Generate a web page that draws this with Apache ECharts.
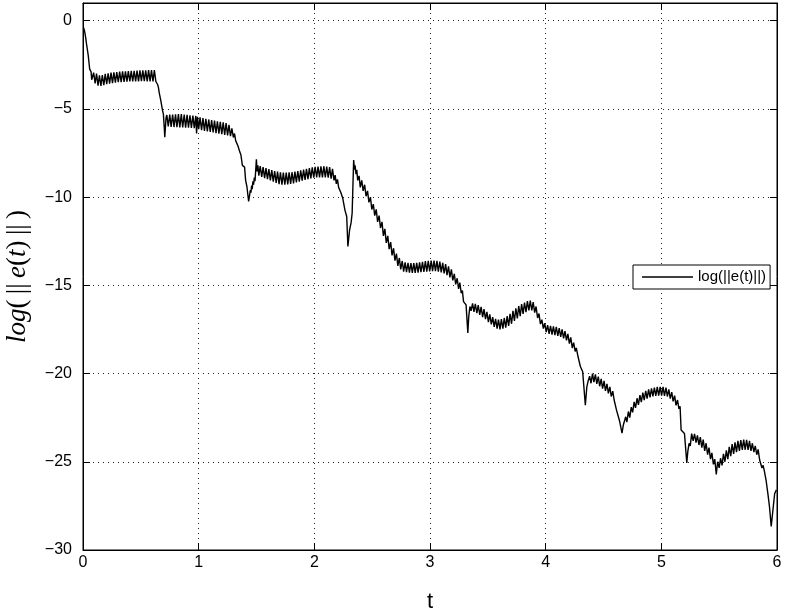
<!DOCTYPE html>
<html>
<head>
<meta charset="utf-8">
<script src="https://cdn.jsdelivr.net/npm/echarts@6/dist/echarts.min.js"></script>
<style>
  html, body { margin: 0; padding: 0; background: #fff; }
  #errChart { width: 786px; height: 614px; }
</style>
</head>
<body>
<div id="errChart"></div>
<script>
// log(||e(t)||), [t, value]
var initialDrop = [[0.005,-0.40],[0.012,-0.55],[0.018,-0.75],[0.024,-1.00],[0.030,-1.30],[0.038,-1.65],[0.045,-1.95],[0.052,-2.40],[0.058,-2.75],[0.064,-2.80],[0.070,-2.90],[0.075,-3.35]]

var plateau1 = [[0.080,-3.40],[0.092,-2.95],[0.105,-3.55],[0.117,-3.00],[0.130,-3.68],[0.142,-3.10],[0.155,-3.70],[0.167,-3.08],[0.180,-3.66],[0.192,-3.02],[0.205,-3.60],[0.217,-2.98],[0.230,-3.57],[0.242,-2.95],[0.255,-3.54],[0.267,-2.93],[0.280,-3.51],[0.292,-2.91],[0.305,-3.49],[0.317,-2.89],[0.330,-3.48],[0.342,-2.88],[0.355,-3.47],[0.367,-2.87],[0.380,-3.46],[0.392,-2.86],[0.405,-3.45],[0.417,-2.85],[0.430,-3.45],[0.442,-2.84],[0.455,-3.44],[0.467,-2.83],[0.480,-3.44],[0.492,-2.82],[0.505,-3.43],[0.517,-2.82],[0.530,-3.43],[0.542,-2.81],[0.555,-3.44],[0.567,-2.80],[0.580,-3.44],[0.592,-2.80],[0.605,-3.45],[0.617,-2.80],[0.630,-3.45],
  [0.640,-3.50],[0.645,-3.62],[0.652,-3.78],[0.658,-4.05],[0.665,-4.10],[0.672,-4.50],[0.680,-4.80],[0.688,-5.10],[0.695,-5.30],[0.702,-6.00],[0.707,-6.60],[0.713,-6.00],[0.718,-5.50]]

var plateau2 = [[0.725,-5.35],[0.737,-6.00],[0.750,-5.33],[0.762,-6.02],[0.775,-5.32],[0.787,-6.03],[0.800,-5.31],[0.812,-6.04],[0.825,-5.30],[0.837,-6.05],[0.850,-5.30],[0.862,-6.05],[0.875,-5.32],[0.887,-6.06],[0.900,-5.34],[0.912,-6.07],[0.925,-5.36],[0.937,-6.08],[0.950,-5.38],[0.962,-6.09],[0.975,-5.40],[0.982,-6.40],[0.990,-5.45],[1.000,-6.15],[1.012,-5.48],[1.025,-6.20],[1.037,-5.52],[1.050,-6.25],[1.062,-5.56],[1.075,-6.28],[1.087,-5.60],[1.100,-6.31],[1.112,-5.64],[1.125,-6.34],[1.137,-5.67],[1.150,-6.38],[1.162,-5.70],[1.175,-6.41],[1.187,-5.73],[1.200,-6.44],[1.212,-5.76],[1.225,-6.47],[1.237,-5.80],[1.250,-6.50],[1.262,-5.90],[1.275,-6.55],[1.287,-6.10],[1.300,-6.62],
  [1.310,-6.40],[1.320,-6.80],[1.330,-6.70],[1.340,-7.10],[1.350,-7.05],[1.356,-7.45],[1.365,-7.60],[1.372,-7.70],[1.378,-8.20],[1.390,-8.25],[1.397,-8.30],[1.406,-9.05],[1.417,-9.40],[1.432,-10.25],[1.440,-9.90],[1.447,-9.60],[1.452,-9.75],[1.458,-9.35],[1.463,-9.55],[1.469,-9.10],[1.475,-9.30],[1.481,-8.90],[1.487,-9.10],[1.493,-8.50],[1.499,-7.86],[1.505,-8.55],[1.512,-8.20]]

var plateau3 = [[1.520,-8.78],[1.532,-8.25],[1.545,-8.85],[1.557,-8.30],[1.570,-8.92],[1.582,-8.36],[1.595,-8.98],[1.607,-8.42],[1.620,-9.05],[1.632,-8.47],[1.645,-9.12],[1.657,-8.52],[1.670,-9.20],[1.682,-8.56],[1.695,-9.27],[1.707,-8.60],[1.720,-9.30],[1.732,-8.61],[1.745,-9.30],[1.757,-8.61],[1.770,-9.28],[1.782,-8.60],[1.795,-9.25],[1.807,-8.59],[1.820,-9.22],[1.832,-8.56],[1.845,-9.17],[1.857,-8.52],[1.870,-9.12],[1.882,-8.48],[1.895,-9.07],[1.907,-8.44],[1.920,-9.02],[1.932,-8.40],[1.945,-8.98],[1.957,-8.36],[1.970,-8.94],[1.982,-8.32],[1.995,-8.90],[2.007,-8.29],[2.020,-8.89],[2.032,-8.27],[2.045,-8.88],[2.057,-8.26],[2.070,-8.88],[2.082,-8.25],[2.095,-8.88],[2.107,-8.27],[2.120,-8.90],[2.132,-8.30],[2.145,-8.95],[2.157,-8.40],[2.170,-9.05],
  [2.180,-8.75],[2.190,-9.25],[2.200,-9.00],[2.210,-9.45],[2.220,-9.35],[2.230,-9.75],[2.238,-9.70],[2.245,-10.05],[2.255,-10.10],[2.265,-10.75],[2.280,-11.10],[2.290,-12.80],[2.305,-11.85],[2.318,-11.45],[2.327,-10.90],[2.340,-7.90],[2.347,-8.45],[2.352,-8.20],[2.360,-8.70]]

var slope1 = [[2.367,-8.45],[2.375,-9.05],[2.387,-8.80],[2.397,-9.45],[2.410,-9.05],[2.422,-9.65],[2.435,-9.30],[2.447,-9.95],[2.460,-9.65],[2.472,-10.30],[2.485,-10.00],[2.497,-10.70],[2.510,-10.40],[2.522,-11.05],[2.535,-10.70],[2.547,-11.40],[2.560,-11.05],[2.572,-11.75],[2.585,-11.40],[2.597,-12.20],[2.610,-11.80],[2.622,-12.60],[2.635,-12.20],[2.647,-12.95],[2.660,-12.55],[2.672,-13.30],[2.685,-12.90],[2.697,-13.60],[2.710,-13.20],[2.722,-13.90],[2.735,-13.45],[2.747,-14.10],[2.760,-13.62],[2.772,-14.22]]

var plateau4 = [[2.785,-13.70],[2.797,-14.25],[2.810,-13.72],[2.822,-14.28],[2.835,-13.74],[2.847,-14.30],[2.860,-13.74],[2.872,-14.30],[2.885,-13.72],[2.897,-14.28],[2.910,-13.70],[2.922,-14.26],[2.935,-13.67],[2.947,-14.24],[2.960,-13.63],[2.972,-14.22],[2.985,-13.61],[2.997,-14.21],[3.010,-13.60],[3.022,-14.20],[3.035,-13.60],[3.047,-14.20],[3.060,-13.61],[3.072,-14.22],[3.085,-13.65],[3.097,-14.27],[3.110,-13.72],[3.122,-14.33],[3.135,-13.80],[3.147,-14.42],[3.160,-13.92],[3.172,-14.55],[3.185,-14.10],[3.197,-14.72],[3.210,-14.35],[3.222,-14.95],[3.235,-14.60],[3.247,-15.20],[3.258,-14.85],
  [3.270,-15.45],[3.280,-15.30],[3.290,-15.92],[3.300,-15.85],[3.312,-16.11],[3.327,-17.70],[3.335,-16.77],[3.345,-16.20],[3.355,-16.45]]

var plateau5 = [[3.368,-16.02],[3.380,-16.50],[3.392,-16.05],[3.405,-16.58],[3.417,-16.12],[3.430,-16.68],[3.442,-16.22],[3.455,-16.80],[3.467,-16.35],[3.480,-16.92],[3.492,-16.50],[3.505,-17.08],[3.517,-16.65],[3.530,-17.22],[3.542,-16.80],[3.555,-17.35],[3.567,-16.90],[3.580,-17.45],[3.592,-16.95],[3.605,-17.50],[3.617,-16.92],[3.630,-17.45],[3.642,-16.85],[3.655,-17.40],[3.667,-16.75],[3.680,-17.30],[3.692,-16.62],[3.705,-17.18],[3.717,-16.45],[3.730,-17.02],[3.742,-16.30],[3.755,-16.88],[3.767,-16.17],[3.780,-16.75],[3.792,-16.06],[3.805,-16.62],[3.817,-15.98],[3.830,-16.52],[3.842,-15.90],[3.855,-16.42],[3.867,-15.86],[3.880,-16.42],[3.892,-15.95],[3.905,-16.55],[3.917,-16.20],[3.930,-16.85],[3.942,-16.60],[3.955,-17.20],[3.967,-16.95],[3.980,-17.45],[3.992,-17.15],[4.005,-17.65],[4.017,-17.25],[4.030,-17.75],[4.042,-17.30],[4.055,-17.80],[4.067,-17.32],[4.080,-17.82],[4.092,-17.36],[4.105,-17.86],[4.117,-17.42],[4.130,-17.92],[4.142,-17.50],[4.155,-18.00],[4.167,-17.60],[4.180,-18.12],[4.192,-17.75],[4.205,-18.30],[4.217,-17.95],[4.230,-18.55],[4.242,-18.25],[4.255,-18.75],
  [4.265,-18.55],[4.280,-19.05],[4.290,-18.95],[4.300,-19.60],[4.320,-19.90],[4.343,-21.80],[4.356,-20.75],[4.368,-20.40]]

var plateau6 = [[4.380,-20.15],[4.392,-20.55],[4.405,-20.00],[4.417,-20.48],[4.430,-20.05],[4.442,-20.58],[4.455,-20.18],[4.467,-20.72],[4.480,-20.30],[4.492,-20.85],[4.505,-20.42],[4.517,-20.98],[4.530,-20.58],[4.542,-21.12],[4.555,-20.75],[4.567,-21.30],[4.580,-21.00],[4.592,-21.50],
  [4.600,-21.45],[4.612,-22.06],[4.625,-22.05],[4.640,-22.72],[4.660,-23.38],[4.672,-22.90],[4.682,-22.95],[4.692,-22.45]]

var plateau7 = [[4.702,-22.75],[4.715,-22.15],[4.727,-22.50],[4.740,-21.90],[4.752,-22.20],[4.765,-21.60],[4.777,-21.95],[4.790,-21.40],[4.802,-21.78],[4.815,-21.22],[4.827,-21.62],[4.840,-21.08],[4.852,-21.50],[4.865,-20.98],[4.877,-21.42],[4.890,-20.90],[4.902,-21.35],[4.915,-20.84],[4.927,-21.30],[4.940,-20.80],[4.952,-21.27],[4.965,-20.76],[4.977,-21.25],[4.990,-20.75],[5.002,-21.25],[5.015,-20.76],[5.027,-21.27],[5.040,-20.80],[5.052,-21.30],[5.065,-20.90],[5.077,-21.42],[5.090,-21.05],[5.102,-21.58],[5.115,-21.25],[5.127,-21.80],[5.140,-21.50],[5.152,-22.00],[5.162,-21.85],
  [5.171,-23.20],[5.185,-23.15],[5.200,-23.40],[5.210,-24.22],[5.220,-25.07],[5.229,-24.41],[5.240,-23.95],[5.250,-24.10]]

var plateau8 = [[5.262,-23.40],[5.275,-23.82],[5.287,-23.42],[5.300,-23.92],[5.312,-23.50],[5.325,-24.05],[5.337,-23.60],[5.350,-24.20],[5.362,-23.75],[5.375,-24.38],[5.387,-23.95],[5.400,-24.60],[5.412,-24.20],[5.425,-24.85],[5.437,-24.50],[5.450,-25.15],[5.462,-24.85],[5.475,-25.72],[5.487,-25.00],[5.500,-25.35],[5.512,-24.80],[5.525,-25.20],[5.537,-24.55],[5.550,-25.00],[5.562,-24.35],[5.575,-24.85],[5.587,-24.15],[5.600,-24.68],[5.612,-24.00],[5.625,-24.55],[5.637,-23.90],[5.650,-24.45],[5.662,-23.82],[5.675,-24.38],[5.687,-23.77],[5.700,-24.33],[5.712,-23.75],[5.725,-24.32],[5.737,-23.76],[5.750,-24.33],[5.762,-23.82],[5.775,-24.38],[5.787,-23.95],[5.800,-24.45],[5.812,-24.10],[5.825,-24.60],[5.837,-24.30],[5.850,-24.90],[5.862,-24.95],[5.870,-25.35]]

var finalDrop = [[5.880,-25.20],[5.890,-25.50],[5.905,-26.02],[5.915,-26.00],[5.922,-26.85],[5.935,-27.55],[5.950,-28.66],[5.965,-27.72],[5.980,-26.80],[5.995,-26.59]]

var logErr = [].concat(initialDrop, plateau1, plateau2, plateau3, slope1, plateau4, plateau5, plateau6, plateau7, plateau8, finalDrop)

var seriesName = 'log(||e(t)||)'
var fontFamily = '"Liberation Sans", Arial, Helvetica, sans-serif'
var serifFamily = '"Liberation Serif", "DejaVu Serif", serif'

var myChart = echarts.init(document.getElementById('errChart'), null, { renderer: 'canvas' })

var gridDots = { show: true, lineStyle: { color: '#222', width: 1, type: [1, 4] } }
var minusSign = function (v) { return String(v).replace('-', '\u2212') }
var sp = '\u2009'

var option = {
  backgroundColor: '#fff',
  animation: false,
  grid: {
    left: 83,
    right: 9,
    top: 3,
    bottom: 64,
    outerBoundsMode: 'none',
    show: true,
    borderColor: '#000',
    borderWidth: 1,
    backgroundColor: 'transparent'
  },
  legend: {
    left: 633,
    top: 265,
    padding: [4, 4, 4, 9],
    backgroundColor: '#fff',
    borderColor: '#000',
    borderWidth: 1,
    borderRadius: 0,
    icon: 'rect',
    itemWidth: 51,
    itemHeight: 1.3,
    itemStyle: { color: '#000' },
    textStyle: { color: '#000', fontSize: 15, fontFamily: fontFamily, lineHeight: 16 },
    data: [seriesName]
  },
  xAxis: [{
    type: 'value',
    min: 0,
    max: 6,
    interval: 1,
    name: 't',
    nameLocation: 'middle',
    nameGap: 41,
    nameTextStyle: { color: '#000', fontSize: 22, fontFamily: fontFamily },
    axisLine: { show: true, onZero: false, lineStyle: { color: '#000' } },
    axisTick: { show: true, inside: true, length: 7, lineStyle: { color: '#000' } },
    axisLabel: { color: '#000', fontSize: 16, fontFamily: fontFamily, margin: 5 },
    splitLine: gridDots
  }, {
    type: 'value',
    position: 'top',
    min: 0,
    max: 6,
    interval: 1,
    axisLine: { show: true, onZero: false, lineStyle: { color: '#000' } },
    axisTick: { show: true, inside: true, length: 7, lineStyle: { color: '#000' } },
    axisLabel: { show: false },
    splitLine: { show: false }
  }],
  yAxis: [{
    type: 'value',
    min: -30,
    max: 1,
    interval: 5,
    name: '{i|log}{r|(' + sp + '||' + sp + '}{i|e}{r|(}{i|t}{r|)' + sp + '||' + sp + ')}',
    nameLocation: 'middle',
    nameGap: 52,
    nameTextStyle: {
      color: '#000',
      rich: {
        i: { fontFamily: serifFamily, fontStyle: 'italic', fontSize: 27, color: '#000' },
        r: { fontFamily: serifFamily, fontSize: 27, color: '#000' }
      }
    },
    axisLine: { show: true, onZero: false, lineStyle: { color: '#000' } },
    axisTick: { show: true, inside: true, length: 7, lineStyle: { color: '#000' } },
    axisLabel: { color: '#000', fontSize: 16, fontFamily: fontFamily, margin: 11, showMaxLabel: false, formatter: minusSign },
    splitLine: gridDots
  }, {
    type: 'value',
    position: 'right',
    min: -30,
    max: 1,
    interval: 5,
    axisLine: { show: true, onZero: false, lineStyle: { color: '#000' } },
    axisTick: { show: true, inside: true, length: 7, lineStyle: { color: '#000' } },
    axisLabel: { show: false },
    splitLine: { show: false }
  }],
  series: [{
    name: seriesName,
    type: 'line',
    xAxisIndex: 0,
    yAxisIndex: 0,
    symbol: 'none',
    smooth: false,
    lineStyle: { color: '#000', width: 1.4 },
    itemStyle: { color: '#000' },
    data: logErr
  }]
}

myChart.setOption(option, true)
</script>
</body>
</html>
